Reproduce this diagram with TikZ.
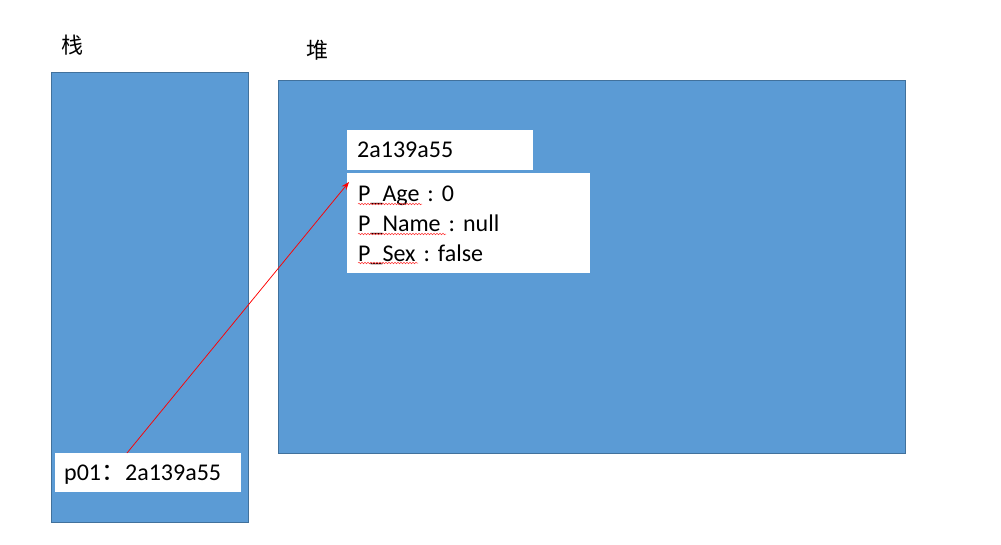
\documentclass[tikz,border=0pt]{standalone}
\usepackage{fontspec}
\setmainfont{Carlito}
\newfontfamily\cjk{Noto Sans CJK SC}
\usetikzlibrary{%
    arrows.meta,
    decorations.pathmorphing,
    positioning
}
\definecolor{boxblue}{HTML}{5B9BD5}
\definecolor{edgeblue}{HTML}{41719C}
\tikzset{
    memory/.style={draw=edgeblue, fill=boxblue, line width=1pt, anchor=north west, inner sep=0pt},
    cell/.style={fill=white, anchor=north west, inner ysep=0pt, align=left,
        font=\fontsize{24}{30}\selectfont},
    spell/.style={red!80!white, line width=0.5pt,
        decorate, decoration={snake, amplitude=0.8pt, segment length=3pt}}
}
\frenchspacing

\begin{document}
\begin{tikzpicture}[x=1pt, y=-1pt]
    \useasboundingbox (0,0) rectangle (1001,544);

    % stack and heap areas
    \node[memory, minimum width=197pt, minimum height=450pt] (stack) at (51,72) {};
    \node[memory, minimum width=627pt, minimum height=373pt] (heap) at (278,80) {};
    \node[font=\cjk\fontsize{22}{22}\selectfont] (stacklabel) at (72,45) {栈};
    \node[font=\cjk\fontsize{22}{22}\selectfont] (heaplabel) at (317,50) {堆};

    % object in the heap
    \node[cell, inner xsep=10pt, text width=166pt, minimum height=40pt] (addr) at (347,130) {2a139a55};
    \node[cell, inner xsep=11pt, text width=221pt, minimum height=100pt] (fields) at (347,173)
        {\rule{0pt}{20pt}P\_Age : 0\\P\_Name : null\\P\_Sex : false};
    \draw[spell] (358,204) -- (422,204);
    \draw[spell] (358,234) -- (446,234);
    \draw[spell] (358,263) -- (418,263);

    % reference in the stack
    \node[cell, inner xsep=9pt, text width=168pt, minimum height=39pt] (ref) at (55,453)
        {\rule{0pt}{20pt}p01{\cjk ：}2a139a55};

    \coordinate (refout) at (127,453);
    \coordinate (objin) at (349,182);
    \draw[red, line width=0.75pt, -{Stealth[length=8pt, width=6pt]}] (refout) -- (objin);
\end{tikzpicture}
\end{document}
